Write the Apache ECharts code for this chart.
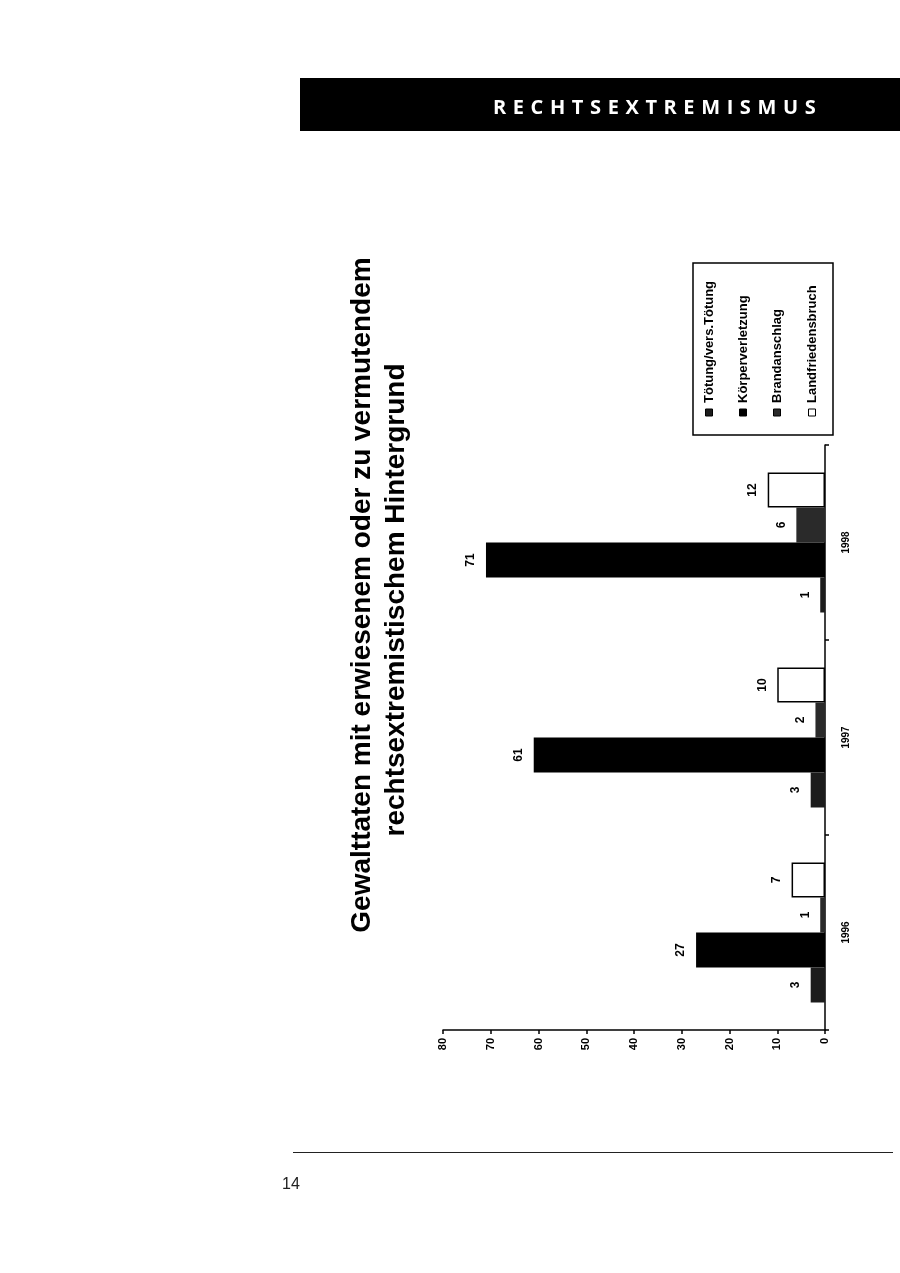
<!DOCTYPE html>
<html>
<head>
<meta charset="utf-8">
<script src="https://cdn.jsdelivr.net/npm/echarts@6/dist/echarts.min.js"></script>
<style>
    html, body { margin: 0; padding: 0; background: #fff; }
    #page { position: relative; width: 900px; height: 1273px; }
    #chart { position: absolute; left: 0; top: 0; width: 900px; height: 1273px; }
    .header {
        position: absolute; left: 300px; top: 78px; width: 600px; height: 53px;
        background: #000; color: #fff;
        font-family: "Open Sans", sans-serif; font-weight: 700; font-size: 20px;
        letter-spacing: 6.6px; line-height: 53px;
    }
    .header span { position: absolute; left: 193px; top: 2px; }
    .rule { position: absolute; left: 293px; top: 1152px; width: 600px; height: 0; border-top: 1.2px solid #222; }
    .pageno { position: absolute; left: 282px; top: 1175px; font-family: "Liberation Sans", sans-serif; font-size: 16px; color: #222; }
</style>
</head>
<body>
<div id="page">
    <div id="chart"></div>
    <div class="header"><span>RECHTSEXTREMISMUS</span></div>
    <div class="rule"></div>
    <div class="pageno">14</div>
</div>
<script>
// Daten
const years = ['1996', '1997', '1998'];
const seriesNames = ['Tötung/vers.Tötung', 'Körperverletzung', 'Brandanschlag', 'Landfriedensbruch'];
const toetung = [3, 3, 1];
const koerperverletzung = [27, 61, 71];
const brandanschlag = [1, 2, 6];
const landfriedensbruch = [7, 10, 12];
const valueTicks = [0, 10, 20, 30, 40, 50, 60, 70, 80];

const titleLines = [
    'Gewalttaten mit erwiesenem oder zu vermutendem',
    'rechtsextremistischem Hintergrund'
];

const seriesData = [toetung, koerperverletzung, brandanschlag, landfriedensbruch];
const colors = ['#1c1c1c', '#000000', '#2a2a2a', '#ffffff'];

const chart = echarts.init(document.getElementById('chart'));

const labelStyle = {
    show: true,
    position: 'left',
    distance: 15,
    rotate: 90,
    align: 'center',
    verticalAlign: 'middle',
    fontFamily: 'Liberation Sans',
    fontWeight: 'bold',
    fontSize: 12,
    color: '#000'
};

// horizontal bars stack from the top, so add them in reverse to get the first series at the bottom
const series = seriesNames.map(function (name, i) {
    return {
        name: name,
        type: 'bar',
        data: seriesData[i],
        barWidth: 35,
        barGap: '0%',
        itemStyle: {
            color: colors[i],
            borderColor: '#000',
            borderWidth: i === 3 ? 1.5 : 0
        },
        label: labelStyle
    };
}).reverse();

// Legende (gedreht)
const legendX = [709, 743, 777, 812];
const legendGraphics = [{
    type: 'rect',
    shape: { x: 693, y: 263, width: 140, height: 172 },
    style: { fill: 'none', stroke: '#000', lineWidth: 1.5 }
}];
seriesNames.forEach(function (name, i) {
    legendGraphics.push({
        type: 'rect',
        shape: { x: legendX[i] - 3.5, y: 409, width: 7, height: 7 },
        style: { fill: colors[i], stroke: '#000', lineWidth: 1 }
    });
    legendGraphics.push({
        type: 'text',
        x: legendX[i],
        y: 403,
        rotation: Math.PI / 2,
        style: {
            text: name,
            fontFamily: 'Liberation Sans Narrow, Liberation Sans',
            fontWeight: 'bold',
            fontSize: 13,
            fill: '#000',
            align: 'left',
            verticalAlign: 'middle'
        }
    });
});

const titleGraphics = titleLines.map(function (line, i) {
    return {
        type: 'text',
        x: i === 0 ? 362 : 396,
        y: i === 0 ? 595 : 600,
        rotation: Math.PI / 2,
        style: {
            text: line,
            fontFamily: 'Liberation Sans',
            fontWeight: 'bold',
            fontSize: 28,
            fill: '#000',
            align: 'center',
            verticalAlign: 'middle'
        }
    };
});

const option = {
    animation: false,
    backgroundColor: '#fff',
    grid: {
        left: 443,
        right: 75,
        top: 445,
        bottom: 243
    },
    xAxis: {
        type: 'value',
        inverse: true,
        position: 'bottom',
        min: valueTicks[0],
        max: valueTicks[valueTicks.length - 1],
        interval: 10,
        axisLine: { show: true, lineStyle: { color: '#000', width: 1.5 } },
        axisTick: { show: true, length: 4, lineStyle: { color: '#000', width: 1.5 } },
        axisLabel: {
            rotate: 90,
            margin: 8,
            fontFamily: 'Liberation Sans',
            fontWeight: 'bold',
            fontSize: 11,
            color: '#000'
        },
        splitLine: { show: false }
    },
    yAxis: {
        type: 'category',
        position: 'right',
        data: years,
        axisLine: { show: true, lineStyle: { color: '#000', width: 1.5 } },
        axisTick: { show: true, length: 4, lineStyle: { color: '#000', width: 1.5 } },
        axisLabel: {
            rotate: 90,
            margin: 16,
            fontFamily: 'Liberation Sans',
            fontWeight: 'bold',
            fontSize: 10,
            color: '#000'
        }
    },
    graphic: titleGraphics.concat(legendGraphics),
    series: series
};

option && chart.setOption(option);
</script>
</body>
</html>
